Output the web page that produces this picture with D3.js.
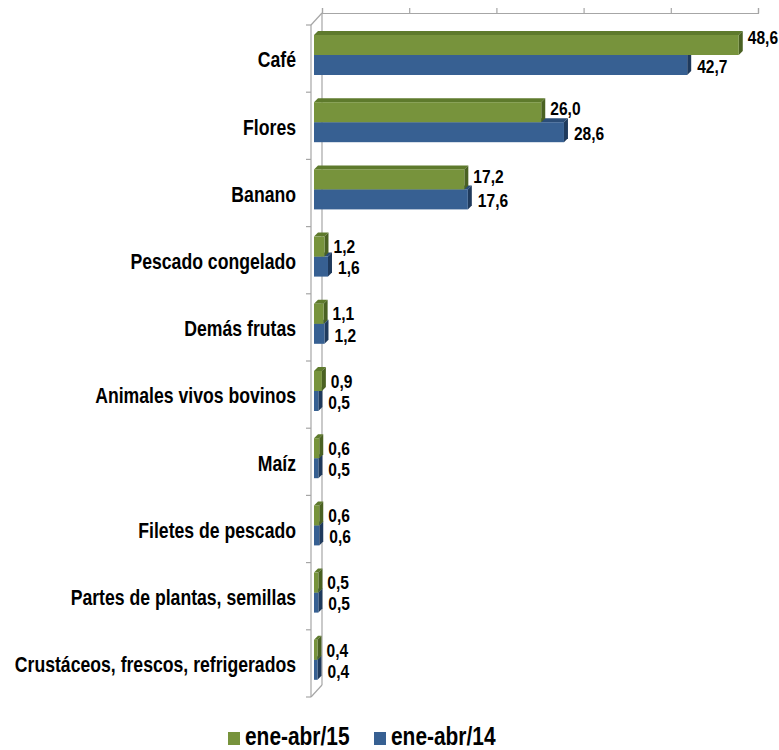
<!DOCTYPE html>
<html>
<head>
<meta charset="utf-8">
<script src="https://cdn.jsdelivr.net/npm/d3@7"></script>
<style>
  html, body { margin: 0; padding: 0; background: #fff; }
  svg text { font-family: "Liberation Sans", Arial, sans-serif; font-weight: bold; fill: #000; }
</style>
</head>
<body>
<svg id="chart" width="779" height="750"></svg>
<script>
// Exportaciones por producto, ene-abr
const categories = [
  "Café", "Flores", "Banano", "Pescado congelado", "Demás frutas",
  "Animales vivos bovinos", "Maíz", "Filetes de pescado",
  "Partes de plantas, semillas", "Crustáceos, frescos, refrigerados"
];
const values15 = [48.6, 26.0, 17.2, 1.2, 1.1, 0.9, 0.6, 0.6, 0.5, 0.4];
const values14 = [42.7, 28.6, 17.6, 1.6, 1.2, 0.5, 0.5, 0.6, 0.5, 0.4];
const seriesNames = ["ene-abr/15", "ene-abr/14"];
const valueTicks = [0, 10, 20, 30, 40, 50];

const svg = d3.select("#chart");

const colors = {
  s15: { front: "#77933C", top: "#5E7A2C", side: "#4A6122" },
  s14: { front: "#376092", top: "#2B4D77", side: "#1F3A5C" }
};

// narrow-looking bold text: squeeze the glyphs horizontally
const narrow = 0.82;
function narrowText(g, tx, ty, str, size, anchor) {
  return g.append("text")
    .attr("transform", `translate(${tx},${ty}) scale(${narrow},1)`)
    .attr("text-anchor", anchor || "start")
    .attr("dy", "0.36em")
    .style("font-size", size + "px")
    .text(str);
}

// plot geometry
const frontX = 311, plotTop = 25, plotBottom = 697;
const wallDx = 11, wallDy = -12;
const x = d3.scaleLinear().domain([0, 50]).range([314, 751]);
const y = d3.scaleBand().domain(categories).range([plotTop, plotBottom]).paddingInner(0).paddingOuter(0);
const depth = 4;
const barH = 20;

const axisColor = "#A6A6A6";

// walls / axis frame
const frame = svg.append("g").attr("stroke", axisColor).attr("fill", "none").attr("stroke-width", 1.2);
frame.append("line").attr("x1", frontX).attr("y1", plotTop).attr("x2", frontX).attr("y2", plotBottom);
frame.append("line").attr("x1", frontX + wallDx).attr("y1", plotTop + wallDy).attr("x2", frontX + wallDx).attr("y2", plotBottom + wallDy);
frame.append("line").attr("x1", frontX).attr("y1", plotTop).attr("x2", frontX + wallDx).attr("y2", plotTop + wallDy);
frame.append("line").attr("x1", frontX).attr("y1", plotBottom).attr("x2", frontX + wallDx).attr("y2", plotBottom + wallDy);

// value axis along the top (no labels)
const xBack = d3.scaleLinear().domain([0, 50]).range([frontX + wallDx, 758]);
const valAxis = svg.append("g")
  .attr("transform", `translate(0,${plotTop + wallDy})`)
  .call(d3.axisTop(xBack).tickValues(valueTicks).tickSize(5).tickFormat(""));
valAxis.selectAll("path, line").attr("stroke", axisColor).attr("stroke-width", 1.2);

// category ticks on the front axis
svg.append("g").selectAll("line")
  .data(d3.range(categories.length + 1))
  .join("line")
  .attr("x1", frontX - 5).attr("x2", frontX)
  .attr("y1", i => plotTop + i * y.step())
  .attr("y2", i => plotTop + i * y.step())
  .attr("stroke", axisColor).attr("stroke-width", 1.2);

// category labels
const catLabels = svg.append("g");
categories.forEach(cat => {
  narrowText(catLabels, 296, y(cat) + y.bandwidth() / 2 + 1, cat, 21.5, "end");
});

// 3D bar helper
function bar(g, v, yTop, c) {
  const x0 = x(0), x1 = x(v), h = barH;
  g.append("polygon")
    .attr("points", [[x0, yTop], [x0 + depth, yTop - depth], [x1 + depth, yTop - depth], [x1, yTop]].join(" "))
    .attr("fill", c.top);
  g.append("polygon")
    .attr("points", [[x1, yTop], [x1 + depth, yTop - depth], [x1 + depth, yTop + h - depth], [x1, yTop + h]].join(" "))
    .attr("fill", c.side);
  g.append("rect")
    .attr("x", x0).attr("y", yTop).attr("width", x1 - x0).attr("height", h)
    .attr("fill", c.front);
}

const fmt = v => d3.format(".1f")(v).replace(".", ",");
const bars = svg.append("g");
const labels = svg.append("g");

categories.forEach((cat, i) => {
  const y0 = y(cat);
  // back series first so the front one overlaps it
  bar(bars, values14[i], y0 + 10 + barH, colors.s14);
  bar(bars, values15[i], y0 + 10, colors.s15);

  narrowText(labels, x(values15[i]) + 9, y0 + 20 - Math.min(8, values15[i] * 0.17), fmt(values15[i]), 19);
  narrowText(labels, x(values14[i]) + 10, y0 + 41, fmt(values14[i]), 19);
});

// legend
const legend = svg.append("g");
const legendItems = [
  { name: seriesNames[0], color: colors.s15.front, x: 228 },
  { name: seriesNames[1], color: colors.s14.front, x: 374 }
];
legendItems.forEach(d => {
  legend.append("rect").attr("x", d.x).attr("y", 732).attr("width", 12).attr("height", 13).attr("fill", d.color);
  legend.append("text")
    .attr("transform", `translate(${d.x + 17},745) scale(${narrow},1)`)
    .style("font-size", "25.5px")
    .text(d.name);
});
</script>
</body>
</html>
